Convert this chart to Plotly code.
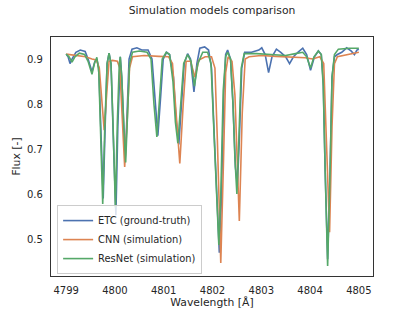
import plotly.graph_objects as go

# ---- data ----
etc_wl = [4799.00, 4799.04, 4799.08, 4799.12, 4799.20, 4799.29, 4799.39, 4799.45, 4799.53, 4799.59,
          4799.63, 4799.67, 4799.71, 4799.76, 4799.80, 4799.84, 4799.88, 4799.92, 4799.96, 4800.02,
          4800.06, 4800.09, 4800.11, 4800.14, 4800.17, 4800.21, 4800.25, 4800.29, 4800.35, 4800.45,
          4800.55, 4800.68, 4800.76, 4800.82, 4800.88, 4800.94, 4800.99, 4801.06, 4801.12, 4801.20,
          4801.25, 4801.31, 4801.37, 4801.42, 4801.49, 4801.55, 4801.62, 4801.68, 4801.74, 4801.84,
          4801.92, 4801.98, 4802.04, 4802.10, 4802.14, 4802.18, 4802.23, 4802.27, 4802.31, 4802.37,
          4802.42, 4802.47, 4802.51, 4802.55, 4802.60, 4802.66, 4802.80, 4802.95, 4803.01, 4803.08,
          4803.15, 4803.22, 4803.31, 4803.40, 4803.50, 4803.58, 4803.66, 4803.75, 4803.85, 4803.93,
          4804.01, 4804.09, 4804.17, 4804.23, 4804.27, 4804.31, 4804.36, 4804.41, 4804.45, 4804.50,
          4804.56, 4804.65, 4804.75, 4804.84, 4804.91, 4804.96, 4805.00]
etc_flux = [0.911, 0.905, 0.890, 0.900, 0.915, 0.920, 0.917, 0.900, 0.872, 0.895,
            0.900, 0.880, 0.750, 0.590, 0.750, 0.890, 0.913, 0.890, 0.750, 0.553,
            0.750, 0.880, 0.905, 0.860, 0.760, 0.675, 0.780, 0.900, 0.922, 0.925,
            0.920, 0.920, 0.900, 0.810, 0.730, 0.820, 0.900, 0.915, 0.910, 0.860,
            0.770, 0.710, 0.800, 0.890, 0.912, 0.900, 0.827, 0.890, 0.924, 0.927,
            0.920, 0.880, 0.720, 0.550, 0.470, 0.580, 0.820, 0.910, 0.920, 0.900,
            0.800, 0.660, 0.620, 0.720, 0.880, 0.915, 0.915, 0.920, 0.925, 0.910,
            0.870, 0.905, 0.922, 0.915, 0.905, 0.890, 0.905, 0.915, 0.924, 0.910,
            0.875, 0.905, 0.918, 0.910, 0.850, 0.650, 0.455, 0.650, 0.860, 0.905,
            0.910, 0.915, 0.925, 0.918, 0.910, 0.920, 0.922]

cnn_wl = [4799.00, 4799.20, 4799.40, 4799.53, 4799.62, 4799.68, 4799.73, 4799.78, 4799.83, 4799.88,
          4799.95, 4800.05, 4800.10, 4800.15, 4800.20, 4800.25, 4800.30, 4800.36, 4800.60, 4800.90,
          4801.10, 4801.18, 4801.25, 4801.33, 4801.40, 4801.46, 4801.55, 4801.64, 4801.72, 4801.85,
          4801.98, 4802.05, 4802.10, 4802.17, 4802.22, 4802.27, 4802.32, 4802.40, 4802.46, 4802.55,
          4802.61, 4802.67, 4802.75, 4803.00, 4803.30, 4803.60, 4803.90, 4804.05, 4804.20, 4804.28,
          4804.33, 4804.40, 4804.45, 4804.50, 4804.56, 4804.80, 4805.00]
cnn_flux = [0.911, 0.908, 0.905, 0.900, 0.898, 0.880, 0.800, 0.742, 0.820, 0.895,
            0.897, 0.895, 0.880, 0.780, 0.660, 0.760, 0.880, 0.905, 0.908, 0.906,
            0.905, 0.890, 0.780, 0.668, 0.800, 0.895, 0.895, 0.860, 0.898, 0.905,
            0.905, 0.880, 0.720, 0.447, 0.650, 0.870, 0.905, 0.895, 0.820, 0.540,
            0.780, 0.900, 0.905, 0.908, 0.906, 0.905, 0.903, 0.900, 0.905, 0.890,
            0.750, 0.515, 0.750, 0.890, 0.905, 0.910, 0.915]

resnet_wl = [4799.00, 4799.06, 4799.12, 4799.18, 4799.27, 4799.38, 4799.45, 4799.53, 4799.58, 4799.63,
             4799.67, 4799.71, 4799.75, 4799.79, 4799.84, 4799.88, 4799.92, 4799.96, 4800.01, 4800.05,
             4800.09, 4800.11, 4800.14, 4800.18, 4800.22, 4800.26, 4800.30, 4800.36, 4800.50, 4800.66,
             4800.74, 4800.80, 4800.86, 4800.92, 4800.97, 4801.05, 4801.12, 4801.19, 4801.24, 4801.29,
             4801.35, 4801.41, 4801.49, 4801.56, 4801.63, 4801.70, 4801.80, 4801.90, 4801.97, 4802.03,
             4802.09, 4802.13, 4802.17, 4802.22, 4802.27, 4802.31, 4802.37, 4802.42, 4802.46, 4802.50,
             4802.54, 4802.59, 4802.65, 4802.90, 4803.20, 4803.50, 4803.70, 4803.85, 4803.93, 4804.01,
             4804.08, 4804.17, 4804.23, 4804.27, 4804.31, 4804.36, 4804.41, 4804.45, 4804.50, 4804.58,
             4804.80, 4805.00]
resnet_flux = [0.911, 0.905, 0.893, 0.905, 0.913, 0.910, 0.895, 0.866, 0.890, 0.904,
               0.870, 0.740, 0.578, 0.740, 0.890, 0.913, 0.890, 0.760, 0.570, 0.760,
               0.890, 0.905, 0.860, 0.760, 0.670, 0.780, 0.890, 0.915, 0.918, 0.915,
               0.900, 0.800, 0.727, 0.820, 0.900, 0.915, 0.910, 0.850, 0.760, 0.713,
               0.800, 0.890, 0.910, 0.895, 0.840, 0.890, 0.915, 0.915, 0.890, 0.750,
               0.600, 0.487, 0.600, 0.830, 0.905, 0.915, 0.900, 0.800, 0.680, 0.600,
               0.720, 0.880, 0.912, 0.912, 0.910, 0.908, 0.912, 0.915, 0.905, 0.880,
               0.905, 0.918, 0.910, 0.840, 0.650, 0.440, 0.650, 0.860, 0.910, 0.922,
               0.924, 0.924]

series_names = ["ETC (ground-truth)", "CNN (simulation)", "ResNet (simulation)"]
x_ticks = [4799, 4800, 4801, 4802, 4803, 4804, 4805]
y_ticks = [0.5, 0.6, 0.7, 0.8, 0.9]

colors = ["#4c72b0", "#dd8452", "#55a868"]
font_family = "DejaVu Sans"
text_color = "#262626"

fig = go.Figure()
for name, wl, fl, c in zip(series_names, [etc_wl, cnn_wl, resnet_wl],
                           [etc_flux, cnn_flux, resnet_flux], colors):
    fig.add_trace(go.Scatter(x=wl, y=fl, mode="lines", name=name,
                             line=dict(color=c, width=1.6)))

axis_common = dict(showgrid=False, zeroline=False, showline=True, mirror=True,
                   linecolor="#333333", linewidth=1.2, ticks="outside", ticklen=5,
                   tickcolor="rgba(0,0,0,0)", automargin=False,
                   tickfont=dict(family=font_family, size=10, color=text_color))

fig.update_layout(
    width=415, height=311,
    margin=dict(l=51, r=42, t=37, b=35, autoexpand=False),
    paper_bgcolor="white", plot_bgcolor="white",
    font=dict(family=font_family, color=text_color, size=10),
    title=dict(text="Simulation models comparison", x=0.511, xanchor="center",
               y=1 - 10 / 311, yanchor="middle", automargin=False,
               font=dict(family=font_family, size=10.8, color=text_color)),
    xaxis=dict(range=[4798.69, 4805.29], tickvals=x_ticks,
               ticktext=[str(t) for t in x_ticks],
               title=dict(text="Wavelength [Å]", standoff=3,
                          font=dict(family=font_family, size=10.8, color=text_color)),
               **axis_common),
    yaxis=dict(range=[0.418, 0.949], tickvals=y_ticks,
               ticktext=[f"{t:.1f}" for t in y_ticks],
               title=dict(text="Flux [-]", standoff=4,
                          font=dict(family=font_family, size=10.8, color=text_color)),
               **axis_common),
    legend=dict(x=0.019, y=0.008, xanchor="left", yanchor="bottom",
                bgcolor="rgba(255,255,255,0.8)", bordercolor="#cccccc", borderwidth=1,
                font=dict(family=font_family, size=9.9, color=text_color),
                itemwidth=30, tracegroupgap=0),
    showlegend=True,
)

fig.write_html("out.html", config={"displayModeBar": False},
               post_script="document.body.style.margin='0';document.body.style.padding='0';")
